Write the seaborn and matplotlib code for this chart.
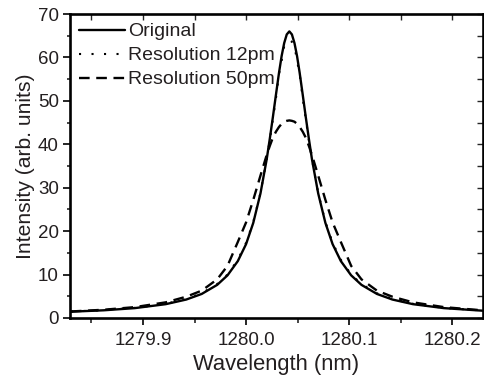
import numpy as np
import pandas as pd
import matplotlib
matplotlib.use('Agg')
import matplotlib.pyplot as plt
from matplotlib.ticker import MultipleLocator, FormatStrFormatter
import seaborn as sns

# Wavelength samples (nm), denser near the resonance
wavelength = [1279.830, 1279.862, 1279.892, 1279.922, 1279.942, 1279.957, 1279.972,
              1279.982, 1279.992, 1280.000, 1280.007, 1280.014, 1280.020, 1280.023,
              1280.026, 1280.029, 1280.032, 1280.0345, 1280.037, 1280.0395, 1280.042,
              1280.0445, 1280.047, 1280.0495, 1280.052, 1280.055, 1280.058, 1280.061,
              1280.064, 1280.070, 1280.077, 1280.084, 1280.092, 1280.102, 1280.112,
              1280.127, 1280.142, 1280.162, 1280.192, 1280.230]

original = [1.45, 1.77, 2.27, 3.18, 4.25, 5.54, 7.63, 9.82, 13.1, 17.0, 21.9, 28.7,
            36.5, 41.2, 46.2, 51.4, 56.5, 60.3, 63.3, 65.3, 66.0, 65.3, 63.3, 60.3,
            56.5, 51.4, 46.2, 41.2, 36.5, 28.7, 21.9, 17.0, 13.1, 9.82, 7.63, 5.54,
            4.25, 3.18, 2.27, 1.67]

res_12pm = [1.48, 1.81, 2.33, 3.26, 4.36, 5.68, 7.82, 10.0, 13.4, 17.3, 22.1, 28.8,
            36.5, 40.9, 45.7, 50.6, 56.2, 59.2, 62.6, 63.6, 64.0, 63.6, 62.6, 59.2,
            56.2, 50.6, 45.7, 40.9, 36.5, 28.8, 22.1, 17.3, 13.4, 10.0, 7.82, 5.68,
            4.36, 3.26, 2.33, 1.71]

res_50pm = [1.50, 1.90, 2.50, 3.60, 4.90, 6.30, 8.90, 12.0, 17.5, 22.0, 27.2, 32.8,
            37.5, 39.6, 41.5, 42.9, 44.0, 44.7, 45.2, 45.4, 45.5, 45.4, 45.2, 44.7,
            44.0, 42.9, 41.5, 39.6, 37.5, 32.8, 27.2, 22.0, 17.5, 12.0, 8.90, 6.30,
            4.90, 3.60, 2.50, 1.75]

series_names = ['Original', 'Resolution 12pm', 'Resolution 50pm']

sns.set_style('ticks')
plt.rcParams['font.family'] = ['Liberation Sans', 'DejaVu Sans']
text_color = '#231f20'

fig = plt.figure(figsize=(4.85, 3.79), dpi=100)
ax = fig.add_axes([0.144, 0.161, 0.852, 0.802])

sns.lineplot(x=wavelength, y=original, ax=ax, color='black', lw=1.7,
             label=series_names[0])
sns.lineplot(x=wavelength, y=res_12pm, ax=ax, color='black', lw=1.5,
             dashes=(1, 5), label=series_names[1])
sns.lineplot(x=wavelength, y=res_50pm, ax=ax, color='black', lw=1.7,
             dashes=(4.5, 2.8), label=series_names[2])

ax.set_xlim(1279.829, 1280.230)
ax.set_ylim(0, 70)
ax.xaxis.set_major_locator(MultipleLocator(0.1))
ax.xaxis.set_minor_locator(MultipleLocator(0.05))
ax.yaxis.set_major_locator(MultipleLocator(10))
ax.yaxis.set_minor_locator(MultipleLocator(5))
ax.xaxis.set_major_formatter(FormatStrFormatter('%.1f'))

for side in ['left', 'right', 'top', 'bottom']:
    ax.spines[side].set_visible(True)
    ax.spines[side].set_linewidth(1.9)
    ax.spines[side].set_color('black')

ax.tick_params(axis='both', which='major', direction='out', length=5, width=1.4,
               labelsize=13.5, labelcolor=text_color, pad=3)
ax.tick_params(axis='x', which='major', pad=5)
ax.tick_params(axis='x', which='minor', direction='out', length=3.5, width=1.2)
ax.tick_params(axis='y', which='minor', direction='out', length=2.5, width=1.2)
ax.tick_params(top=False, right=False, which='both')

# inward ticks on the top and right spines
ax_top = ax.secondary_xaxis('top')
ax_top.xaxis.set_major_locator(MultipleLocator(0.05))
ax_top.tick_params(direction='in', length=4, width=1.0, labeltop=False)
ax_top.spines['top'].set_visible(False)
ax_right = ax.secondary_yaxis('right')
ax_right.yaxis.set_major_locator(MultipleLocator(5))
ax_right.tick_params(direction='in', length=4, width=1.0, labelright=False)
ax_right.spines['right'].set_visible(False)

ax.set_xlabel('Wavelength (nm)', fontsize=15.8, color=text_color, labelpad=4)
ax.set_ylabel('Intensity (arb. units)', fontsize=15.2, color=text_color, labelpad=2)

leg = ax.legend(loc='upper left', frameon=False, fontsize=14, handlelength=2.4,
                handletextpad=0.15, labelspacing=0.33, borderaxespad=0.15,
                borderpad=0.3)
for t in leg.get_texts():
    t.set_color(text_color)

fig.savefig('out.png', dpi=100)
